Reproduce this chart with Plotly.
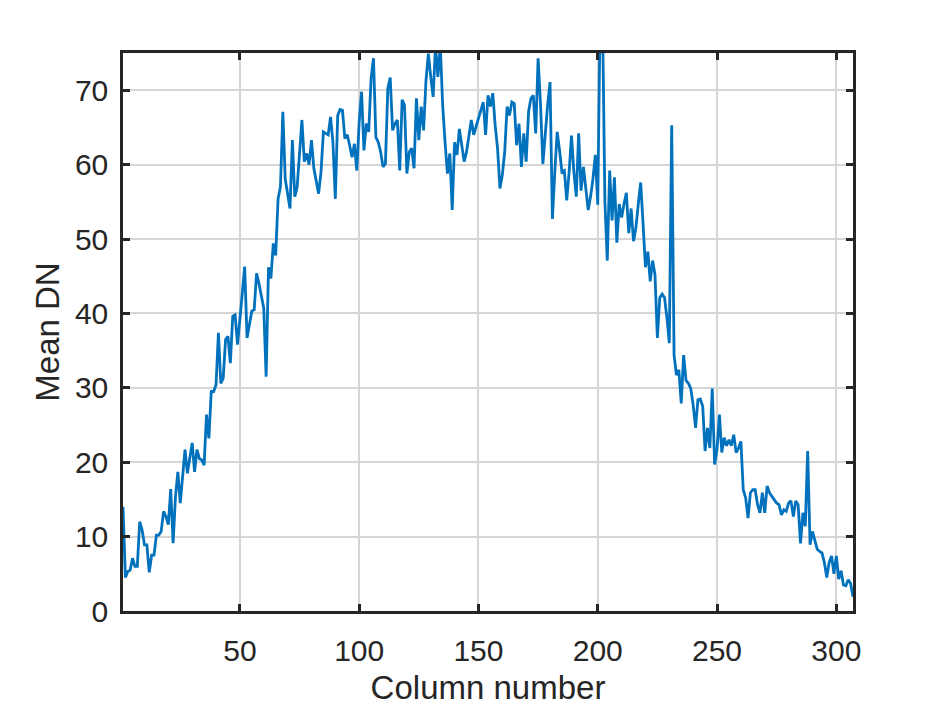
import plotly.graph_objects as go

# Mean DN per column (columns 1..307)
mean_dn = [
    14, 4.5, 5.3, 5.5, 7.1, 6, 6, 12, 10.9, 8.9,
    8.9, 5.2, 7.5, 7.5, 10.2, 10.2, 10.7, 13.4, 12.7, 11.6,
    16.4, 9.1, 15.4, 18.7, 14.5, 18.5, 21.7, 18.5, 20.8, 22.6,
    18.7, 21.7, 20.5, 20.3, 19.6, 26.4, 23.2, 29.5, 29.5, 30.4,
    37.4, 30.6, 31.3, 36.5, 36.9, 33.3, 39.6, 39.8, 35.8, 38.9,
    42.7, 46.3, 36.7, 38.5, 40.3, 40.5, 45.4, 44, 42.3, 40.7,
    31.5, 46.2, 44.7, 49.4, 47.8, 55.4, 57, 67.1, 58.1, 56.3,
    54.1, 63.3, 55.7, 57, 61.7, 66, 60.4, 61.5, 60, 63.3,
    59.5, 57.9, 56.1, 59, 64.4, 64.2, 64, 66.4, 63, 55.4,
    66.6, 67.4, 67.3, 63.5, 64, 62.6, 61, 62.8, 59.2, 65.7,
    69.8, 61.9, 65.5, 64.4, 71.6, 74.3, 63.7, 63, 61.7, 59.7,
    60.1, 70.2, 71.7, 64.6, 65.5, 66, 59.2, 68.7, 68, 58.8,
    61.7, 62.2, 59.5, 68.9, 63.3, 67.8, 64.6, 71.3, 74.9, 71.8,
    69.1, 76, 71.8, 76, 68, 63, 58.8, 61.5, 53.9, 63,
    61.3, 64.8, 62.2, 60.4, 61.7, 64, 66, 64, 65.3, 66.2,
    67.3, 68.4, 64, 69.3, 67.8, 69.6, 65.3, 62.2, 56.8, 58.6,
    61.7, 67.8, 66.6, 68.4, 68.2, 62.6, 65.5, 59.7, 64.2, 60.4,
    67.1, 68.9, 69.3, 64.2, 74.3, 68.2, 60.1, 64.4, 68, 71.1,
    52.7, 59, 64.4, 61.9, 59, 59.2, 55.2, 59, 63.9, 59,
    55.7, 64.2, 56.5, 59.7, 56.8, 53.9, 55.7, 58.1, 61.3, 54.6,
    80, 80, 55, 47.1, 59.2, 52.5, 58.3, 49.5, 54.7, 52.9,
    54.7, 56.2, 50.8, 54.1, 49.7, 51.5, 54.7, 57.6, 52, 46.2,
    48.3, 44.3, 47.1, 45.2, 36.7, 42.1, 42.6, 42.1, 39.4, 36,
    65.3, 34.4, 31.7, 32.4, 27.9, 34.4, 31, 30.6, 29.9, 27.7,
    24.6, 28.4, 28.5, 27.5, 21.5, 24.6, 21.9, 29.9, 19.7, 21.7,
    26.4, 21.3, 23.3, 22.2, 23, 22.2, 23.7, 21.3, 21.9, 22.8,
    16.3, 15.2, 12.5, 15.9, 16.3, 16.3, 14.3, 13.2, 15.9, 13.2,
    16.8, 15.9, 15.4, 15, 14.5, 14.3, 12.9, 13.6, 13.4, 14.5,
    14.8, 12.7, 14.8, 14.3, 9.1, 13.2, 11.4, 21.5, 8.9, 10.7,
    9.6, 8.3, 8, 7.8, 6.5, 4.5, 6.5, 7.4, 5, 7.4,
    4.3, 5.4, 3.5, 3.4, 4.2, 3.7, 1.9,
]
columns = list(range(1, len(mean_dn) + 1))

x_ticks = [50, 100, 150, 200, 250, 300]
y_ticks = [0, 10, 20, 30, 40, 50, 60, 70]

axis_color = "#262626"
tick_font = dict(family="Liberation Sans, Arial, sans-serif", size=30, color=axis_color)
title_font = dict(family="Liberation Sans, Arial, sans-serif", size=33, color=axis_color)

fig = go.Figure()
fig.add_trace(go.Scatter(
    x=columns, y=mean_dn, mode="lines",
    line=dict(color="#0072BD", width=2.8),
    showlegend=False,
))

common = dict(
    showline=True, linecolor=axis_color, linewidth=2.5, mirror="ticks",
    ticks="inside", ticklen=7, tickwidth=2.5, tickcolor=axis_color,
    showgrid=True, gridcolor="#d6d6d6", gridwidth=2,
    zeroline=False, tickfont=tick_font,
)

fig.update_xaxes(
    range=[1, 307], tickvals=x_ticks, ticklabelstandoff=11,
    title=dict(text="Column number", font=title_font, standoff=11),
    **common,
)
fig.update_yaxes(
    range=[0, 75], tickvals=y_ticks, ticklabelstandoff=6,
    title=dict(text="Mean DN", font=title_font, standoff=6),
    **common,
)

# page body adds an 8px offset, so margins are shifted to land the axes in place
fig.update_layout(
    width=945, height=708,
    margin=dict(l=115, r=100, t=45, b=105),
    paper_bgcolor="white", plot_bgcolor="white",
    font=tick_font,
)

fig.write_html("out.html")
